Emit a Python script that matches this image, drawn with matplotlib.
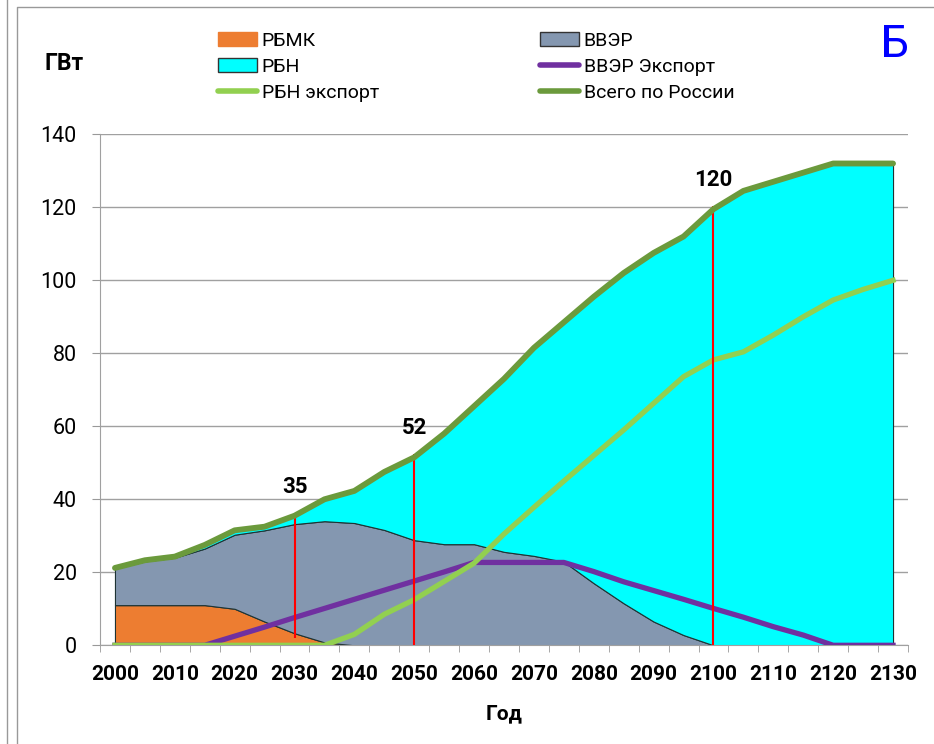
import numpy as np
import matplotlib.pyplot as plt
from matplotlib.patches import Patch
from matplotlib.lines import Line2D

plt.rcParams['font.family'] = ['Roboto', 'DejaVu Sans']

# ---- data (GW), every 5 years ----
years = list(range(2000, 2135, 5))
rbmk = [11, 11, 11, 11, 10, 6.5, 3.3, 0.8, 0, 0, 0, 0, 0, 0,
        0, 0, 0, 0, 0, 0, 0, 0, 0, 0, 0, 0, 0]
vver = [10, 12, 13, 15.5, 20.3, 25, 29.9, 33.2, 33.5, 31.6, 28.8, 27.7, 27.7, 25.6,
        24.5, 22.9, 17, 11.5, 6.5, 2.8, 0, 0, 0, 0, 0, 0, 0]
rbn = [0.2, 0.3, 0.3, 1.0, 1.2, 1.0, 2.3, 6.0, 8.8, 15.9, 22.7, 30.3, 37.8, 47.4,
       57.0, 65.6, 78.5, 90.5, 101.0, 109.2, 119.5, 124.5, 127, 129.5, 132, 132, 132]
vver_export = [0, 0, 0, 0, 2.5, 5, 7.6, 10.1, 12.6, 15.1, 17.6, 20.1, 22.7, 22.7,
               22.7, 22.7, 20.2, 17.4, 15.0, 12.6, 10.1, 7.7, 5.1, 2.8, 0, 0, 0]
rbn_export = [0, 0, 0, 0, 0, 0, 0, 0, 3, 8.5, 12.5, 17.5, 22.5, 30.5,
              37.8, 45, 52, 59, 66.3, 73.6, 78.2, 80.4, 85, 90, 94.6, 97.5, 100]

mark_years = [2030, 2050, 2100]
mark_labels = ['35', '52', '120']

x = np.array(years)
rbmk = np.array(rbmk)
vver = np.array(vver)
rbn = np.array(rbn)
total = rbmk + vver + rbn

W, H = 934, 744
fig = plt.figure(figsize=(W / 100, H / 100), dpi=100)
ax = fig.add_axes([100 / W, 1 - 645.3 / H, 808 / W, 511 / H])

edge = '#1e3333'
ax.fill_between(x, 0, rbmk, facecolor='#ED7D31', edgecolor=edge, lw=0.8, zorder=2)
ax.fill_between(x, rbmk, rbmk + vver, facecolor='#8497B0', edgecolor=edge, lw=0.8, zorder=2)
ax.fill_between(x, rbmk + vver, total, facecolor='#00FFFF', edgecolor=edge, lw=0.8, zorder=2)

ax.plot(x, vver_export, color='#7030A0', lw=3.8, zorder=4)
ax.plot(x, rbn_export, color='#92D050', lw=3.8, zorder=5)

# red markers for selected years
for yr, lab, y0 in zip(mark_years, mark_labels, [2, 0, 0]):
    top = total[years.index(yr)]
    ax.vlines(yr, y0, top + 0.8, color='#FF0000', lw=1.5, zorder=5.5)
    ax.text(yr, top + 8, lab, ha='center', va='center', fontsize=16,
            fontweight='bold', zorder=8)

ax.plot(x, total, color='#6B9A3C', lw=4.2, zorder=6, solid_capstyle='round')

ax.set_xlim(1997.5, 2132.5)
ax.set_ylim(0, 140)
ax.set_yticks(range(0, 141, 20))
ax.set_xticks(range(2000, 2131, 10))
ax.set_xticks(np.arange(1997.5, 2133, 5), minor=True)
ax.tick_params(axis='x', which='major', length=0, pad=14, labelsize=15)
ax.tick_params(axis='x', which='minor', length=5, color='#999999', direction='out')
ax.tick_params(axis='y', length=5.8, color='#999999', pad=11, labelsize=15.5)
for t in ax.get_xticklabels():
    t.set_fontweight('bold')
ax.grid(axis='y', color='#a0a0a0', lw=1, zorder=0)
ax.set_axisbelow(True)
for s in ['top', 'right']:
    ax.spines[s].set_visible(False)
ax.spines['left'].set_color('#a0a0a0')
ax.spines['bottom'].set_color('#a0a0a0')

fig.text(504 / W, 1 - 714 / H, 'Год', ha='center', va='center', fontsize=15, fontweight='bold')
fig.text(64 / W, 1 - 70 / H, 'ГВт', ha='center', va='baseline', fontsize=16.5, fontweight='bold')
fig.text(895 / W, 1 - 57 / H, 'Б', ha='center', va='baseline', fontsize=32, color='#0000FF')

# legend in two fixed columns
h1 = [Patch(facecolor='#ED7D31', edgecolor='#ED7D31', label='РБМК'),
      Patch(facecolor='#00FFFF', edgecolor='#333333', label='РБН'),
      Line2D([], [], color='#92D050', lw=4, solid_capstyle='round', label='РБН экспорт')]
h2 = [Patch(facecolor='#8497B0', edgecolor='#333333', label='ВВЭР'),
      Line2D([], [], color='#7030A0', lw=4, solid_capstyle='round', label='ВВЭР Экспорт'),
      Line2D([], [], color='#6B9A3C', lw=4, solid_capstyle='round', label='Всего по России')]
for hh, x0 in [(h1, 218), (h2, 540)]:
    fig.legend(handles=hh, loc='upper left', bbox_to_anchor=(x0 / W, 1 - 32 / H),
               frameon=False, fontsize=14, borderpad=0, borderaxespad=0,
               handlelength=2.0, handletextpad=0.25, labelspacing=0.4)

# outer frame lines
fig.add_artist(Line2D([7 / W, 7 / W], [0, 1], color='#999999', lw=1))
fig.add_artist(Line2D([17 / W, 17 / W, 1], [0, 1 - 7 / H, 1 - 7 / H], color='#999999', lw=1))

fig.savefig('out.png', dpi=100)
